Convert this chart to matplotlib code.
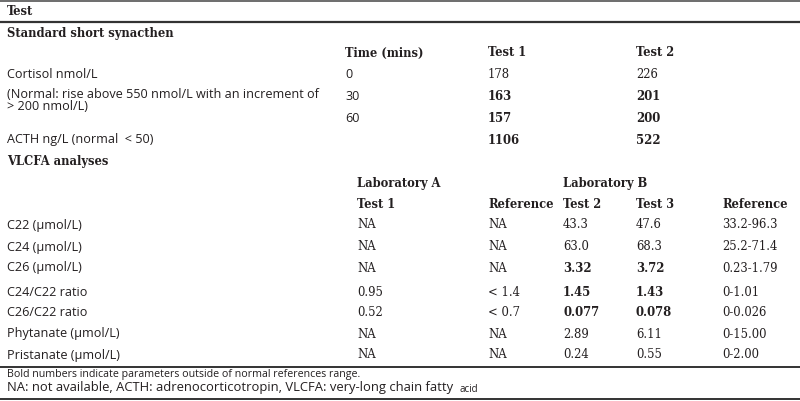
#!/usr/bin/env python
"""plot.py: synacthen / VLCFA results table drawn with matplotlib"""

import matplotlib
matplotlib.use('Agg')
from matplotlib import pyplot as plt

INK = '#231f20'
SANS = ['Open Sans', 'DejaVu Sans']
SERIF = ['DejaVu Serif']

# Standard short synacthen
cortisol_times = ['0', '30', '60']
cortisol_test1 = ['178', '163', '157']
cortisol_test2 = ['226', '201', '200']
cortisol_bold = [False, True, True]
acth_test1 = '1106'
acth_test2 = '522'

# VLCFA analyses
vlcfa_labels = ['C22 (µmol/L)', 'C24 (µmol/L)', 'C26 (µmol/L)', 'C24/C22 ratio',
                'C26/C22 ratio', 'Phytanate (µmol/L)', 'Pristanate (µmol/L)']
lab_a_test1 = ['NA', 'NA', 'NA', '0.95', '0.52', 'NA', 'NA']
lab_a_ref = ['NA', 'NA', 'NA', '< 1.4', '< 0.7', 'NA', 'NA']
lab_b_test2 = ['43.3', '63.0', '3.32', '1.45', '0.077', '2.89', '0.24']
lab_b_test3 = ['47.6', '68.3', '3.72', '1.43', '0.078', '6.11', '0.55']
lab_b_ref = ['33.2-96.3', '25.2-71.4', '0.23-1.79', '0-1.01', '0-0.026',
             '0-15.00', '0-2.00']
lab_b_bold = [False, False, True, True, True, False, False]

HEAD = dict(bold=True, family=SERIF, size=8.3)
NUM = dict(family=SERIF, size=8.4)


def put(ax, x, y, s, bold=False, family=SANS, size=9.1, **kw):
    ax.text(x, y, s, fontsize=size, family=family, color=INK,
            fontweight='bold' if bold else 'normal', va='center', ha='left', **kw)


def main():
    fig = plt.figure(figsize=(8.0, 4.01), dpi=100)
    ax = fig.add_axes([0, 0, 1, 1])
    ax.set_xlim(0, 800)
    ax.set_ylim(401, 0)
    ax.axis('off')

    # rules
    ax.plot([0, 800], [0.8, 0.8], color='#6d6d6d', lw=1.4)
    ax.plot([0, 800], [21.5, 21.5], color='#333333', lw=1.6)
    ax.plot([0, 800], [366.5, 366.5], color='#333333', lw=1.4)
    ax.plot([0, 800], [398.5, 398.5], color='#333333', lw=1.4)

    x_lab, x_c1, x_c2, x_c3, x_c4, x_c5 = 7, 345, 488, 636, 563, 722
    x_a = 357

    put(ax, x_lab, 11.5, 'Test', **HEAD)
    put(ax, x_lab, 33, 'Standard short synacthen', **HEAD)
    put(ax, x_c1, 53, 'Time (mins)', **HEAD)
    put(ax, x_c2, 53, 'Test 1', **HEAD)
    put(ax, x_c3, 53, 'Test 2', **HEAD)

    put(ax, x_lab, 75, 'Cortisol nmol/L')
    put(ax, x_lab, 94, '(Normal: rise above 550 nmol/L with an increment of')
    put(ax, x_lab, 107, '> 200 nmol/L)')
    for y, t, a, b, bd in zip([75, 97, 118], cortisol_times, cortisol_test1,
                              cortisol_test2, cortisol_bold):
        put(ax, x_c1, y, t)
        put(ax, x_c2, y, a, bold=bd, **NUM)
        put(ax, x_c3, y, b, bold=bd, **NUM)
    put(ax, x_lab, 140, 'ACTH ng/L (normal  < 50)')
    put(ax, x_c2, 140, acth_test1, bold=True, **NUM)
    put(ax, x_c3, 140, acth_test2, bold=True, **NUM)

    put(ax, x_lab, 162, 'VLCFA analyses', **HEAD)
    put(ax, x_a, 183, 'Laboratory A', **HEAD)
    put(ax, x_c4, 183, 'Laboratory B', **HEAD)
    for x, s in [(x_a, 'Test 1'), (x_c2, 'Reference'), (x_c4, 'Test 2'),
                 (x_c3, 'Test 3'), (x_c5, 'Reference')]:
        put(ax, x, 204, s, **HEAD)

    rows_y = [225, 247, 268, 292, 313, 334, 355]
    for i, y in enumerate(rows_y):
        put(ax, x_lab, y, vlcfa_labels[i])
        put(ax, x_a, y, lab_a_test1[i], **NUM)
        put(ax, x_c2, y, lab_a_ref[i], **NUM)
        put(ax, x_c4, y, lab_b_test2[i], bold=lab_b_bold[i], **NUM)
        put(ax, x_c3, y, lab_b_test3[i], bold=lab_b_bold[i], **NUM)
        put(ax, x_c5, y, lab_b_ref[i], **NUM)

    put(ax, x_lab, 375, 'Bold numbers indicate parameters outside of normal references range.',
        size=7.7)
    put(ax, x_lab, 388, 'NA: not available, ACTH: adrenocorticotropin, VLCFA: very-long chain fatty',
        size=9.4)
    put(ax, 460, 389, 'acid', size=7.0)

    fig.savefig('out.png', dpi=100)


if __name__ == '__main__':
    main()
